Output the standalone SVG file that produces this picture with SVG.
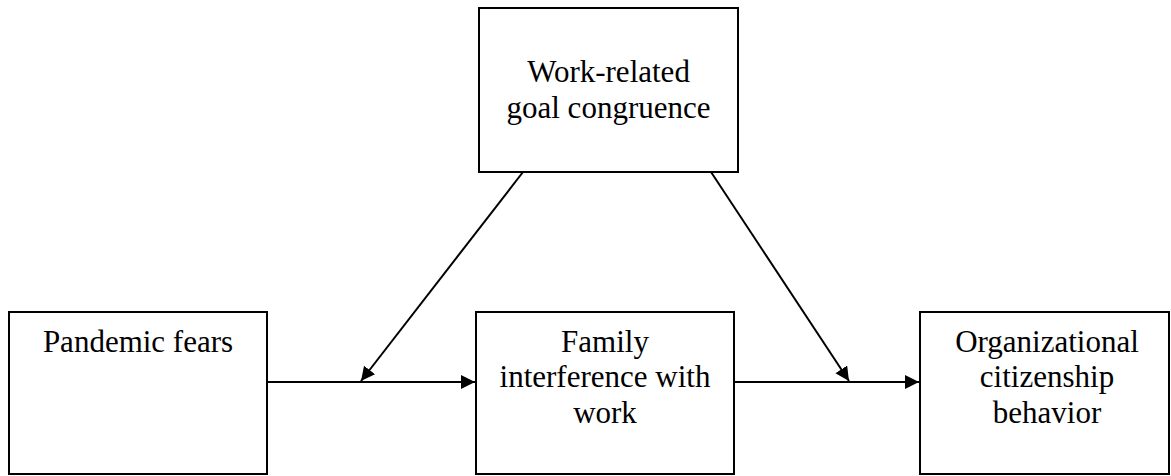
<svg xmlns="http://www.w3.org/2000/svg" width="1171" height="476" viewBox="0 0 1171 476">
<style>
.box{fill:#fff;stroke:#000;stroke-width:2}
.lbl{font-family:'Liberation Serif','Times New Roman',serif;font-size:31px;fill:#000;text-anchor:middle}
.conn{stroke:#000;stroke-width:2;fill:none}
</style>
<defs>
<marker id="arr" markerUnits="userSpaceOnUse" markerWidth="15" markerHeight="15" refX="14" refY="7" orient="auto">
<path d="M0,0 L14,7 L0,14 z" fill="#000"/>
</marker>
</defs>
<rect width="1171" height="476" fill="#fff"/>
<g id="connectors">
<line class="conn" x1="267" y1="382" x2="475" y2="382" marker-end="url(#arr)"/>
<line class="conn" x1="734" y1="382" x2="919" y2="382" marker-end="url(#arr)"/>
<line class="conn" x1="523" y1="172" x2="361" y2="381" marker-end="url(#arr)"/>
<line class="conn" x1="711" y1="172" x2="849" y2="381" marker-end="url(#arr)"/>
</g>
<g id="top">
<rect class="box" x="479" y="8" width="259" height="164"/>
<text class="lbl" x="608.5" y="82">Work-related</text>
<text class="lbl" x="608.5" y="118">goal congruence</text>
</g>
<g id="pandemic">
<rect class="box" x="9" y="312" width="258" height="162"/>
<text class="lbl" x="138" y="352">Pandemic fears</text>
</g>
<g id="family">
<rect class="box" x="476" y="312" width="258" height="162"/>
<text class="lbl" x="605" y="352">Family</text>
<text class="lbl" x="605" y="387">interference with</text>
<text class="lbl" x="605" y="423">work</text>
</g>
<g id="ocb">
<rect class="box" x="920" y="312" width="249" height="162"/>
<text class="lbl" x="1047" y="352">Organizational</text>
<text class="lbl" x="1047" y="387">citizenship</text>
<text class="lbl" x="1047" y="423">behavior</text>
</g>
</svg>
